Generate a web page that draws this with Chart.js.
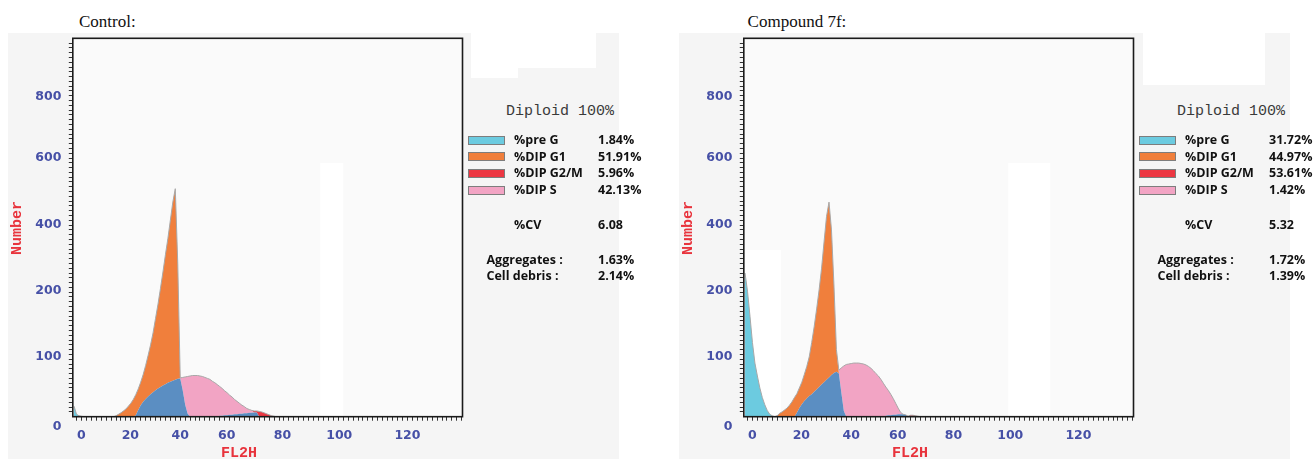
<!DOCTYPE html>
<html><head><meta charset="utf-8">
<script src="https://cdn.jsdelivr.net/npm/chart.js@4.4.1/dist/chart.umd.min.js"></script>
<style>
html,body{margin:0;padding:0;background:#fff;}
body{width:1315px;height:459px;position:relative;overflow:hidden;}
.panel{position:absolute;top:0;width:660px;height:459px;}
.abs{position:absolute;}
.bg{background:#f5f5f5;}
.white{background:#ffffff;}
.title{font-family:"Liberation Serif",serif;font-size:17px;color:#111;line-height:20px;white-space:nowrap;}
.axt{font-family:"Liberation Mono",monospace;font-weight:bold;font-size:15px;color:#e8333c;white-space:nowrap;line-height:16px;}
.dip{font-family:"Liberation Mono",monospace;font-size:15px;color:#3a3a3a;white-space:nowrap;line-height:16px;}
.lg{font-family:"Open Sans",sans-serif;font-weight:700;font-size:12.5px;color:#111;white-space:nowrap;line-height:16px;}
.sw{border:1px solid #7d7d7d;box-sizing:border-box;}
canvas{position:absolute;left:0;top:0;}
</style>
</head><body>
<script>
// ---------------- data ----------------
// FL2H channel grid (shared by both histograms)
const channels = [-3,-2,-1,0,1,2,3,4,5,6,7,8,9,10,11,12,13,14,15,16,17,18,19,20,21,22,23,24,25,26,27,28,29,30,31,32,33,34,35,36,37,38,39,40,41,42,43,44,45,46,47,48,49,50,51,52,53,54,55,56,57,58,59,60,61,62,63,64,65,66,67,68,69,70,71,72,73,74,75,76,77,78,79,80];

// Control: counts per channel for each phase component (stacked)
const controlPreG   = [22,5,2,1,0,0,0,0,0,0,0,0,0,0,0,0,0,0,0,0,0,0,0,0,0,0,0,0,0,0,0,0,0,0,0,0,0,0,0,0,0,0,0,0,0,0,0,0,0,0,0,0,0,0,0,0,0,0,0,0,0,0,0,0,0,0,0,0,0,0,0,0,0,0,0,0,0,0,0,0,0,0,0,0];
const controlSUnder = [0,0,0,0,0,0,0,0,0,0,0,0,0,0,0,0,0,0,0,0,0,0,0,0,0,3,14,24,31,37,42,47,51,55,59,62,65,68,71,73,75,77,79,80,55,25,6,0,0,0,0,0,0,0,0,0,0,1,1,2,2,3,3,4,4,5,5,6,6,7,7,8,8,9,9,0,0,0,0,0,0,0,0,0];
const controlG1     = [0,0,0,0,0,0,0,0,0,0,0,0,0,0,0,0,0,2,5,8,12,16,22,28,36,43,44,48,57,70,86,103,124,150,176,206,237,270,301,337,373,399,241,0,0,0,0,0,0,0,0,0,0,0,0,0,0,0,0,0,0,0,0,0,0,0,0,0,0,0,0,0,0,0,0,0,0,0,0,0,0,0,0,0];
const controlS      = [0,0,0,0,0,0,0,0,0,0,0,0,0,0,0,0,0,0,0,0,0,0,0,0,0,0,0,0,0,0,0,0,0,0,0,0,0,0,0,0,0,0,0,1,27,58,78,85,86,86,86,85,84,82,80,78,74,70,66,61,57,51,47,41,37,31,27,22,18,14,10,7,4,0,0,0,0,0,0,0,0,0,0,0];
const controlG2M    = [0,0,0,0,0,0,0,0,0,0,0,0,0,0,0,0,0,0,0,0,0,0,0,0,0,0,0,0,0,0,0,0,0,0,0,0,0,0,0,0,0,0,0,0,0,0,0,0,0,0,0,0,0,0,0,0,0,0,0,0,0,0,0,0,0,0,0,0,0,0,0,0,1,3,3,11,10,8,6,4,2,1,0,0];

// Compound 7f
const compPreG   = [300,262,210,155,112,85,60,40,25,13,5,2,0,0,0,0,0,0,0,0,0,0,0,0,0,0,0,0,0,0,0,0,0,0,0,0,0,0,0,0,0,0,0,0,0,0,0,0,0,0,0,0,0,0,0,0,0,0,0,0,0,0,0,0,0,0,0,0,0,0,0,0,0,0,0,0,0,0,0,0,0,0,0,0];
const compSUnder = [0,0,0,0,0,0,0,0,0,0,0,0,0,0,0,0,0,0,0,0,0,8,18,26,33,38,43,47,52,57,62,67,72,77,82,87,91,94,90,50,12,0,0,0,0,0,0,0,0,0,0,0,0,0,0,0,0,2,3,3,4,4,5,5,5,4,0,0,0,0,0,0,0,0,0,0,0,0,0,0];
const compG1     = [0,0,0,0,0,0,0,0,0,0,0,0,0,2,7,10,14,18,24,31,40,40,42,46,55,67,82,108,136,168,203,243,293,341,366,303,184,46,0,0,0,0,0,0,0,0,0,0,0,0,0,0,0,0,0,0,0,0,0,0,0,0,0,0,0,0,0,0,0,0,0,0,0,0,0,0,0,0,0,0,0,0,0,0];
const compS      = [0,0,0,0,0,0,0,0,0,0,0,0,0,0,0,0,0,0,0,0,0,0,0,0,0,0,0,0,0,0,0,0,0,0,0,0,0,0,7,52,94,109,110,111,112,112,112,111,110,108,105,101,96,90,85,78,70,60,52,44,34,24,13,4,0,0,0,0,0,0,0,0,0,0,0,0,0,0,0,0,0,0,0,0];
const compG2M    = [0,0,0,0,0,0,0,0,0,0,0,0,0,0,0,0,0,0,0,0,0,0,0,0,0,0,0,0,0,0,0,0,0,0,0,0,0,0,0,0,0,0,0,0,0,0,0,0,0,0,0,0,0,0,0,0,0,0,0,0,0,0,0,0,0,0,1,3,3,2,1,0,0,0,0,0,0,0,0,0,0,0,0,0];

// axis tick labels and the axis values where they are printed
const xTickLabels = ['0','20','40','60','80','100','120'];
const xTickAt     = [0, 19.8, 40, 58.8, 81.4, 104.4, 132];
const yTickLabels = ['0','100','200','400','600','800'];
const yTickAt     = [-21.5, 126, 262, 400, 540, 667];

// legend / statistics text
const phaseNames   = ['%pre G','%DIP G1','%DIP G2/M','%DIP S'];
const controlPct   = ['1.84%','51.91%','5.96%','42.13%'];
const compPct      = ['31.72%','44.97%','53.61%','1.42%'];
const controlStats = {cv:'6.08', agg:'1.63%', debris:'2.14%'};
const compStats    = {cv:'5.32', agg:'1.72%', debris:'1.39%'};

// ---------------- styling ----------------
const COL = {preG:'#6ccbe0', g1:'#f07f3c', g2m:'#ec3742', s:'#f2a4c4', sUnder:'#5b8ec2'};
const swatchCols = [COL.preG, COL.g1, COL.g2m, COL.s];

function makePanel(opts){
  const p = document.createElement('div');
  p.className = 'panel';
  p.style.left = opts.left + 'px';
  document.body.appendChild(p);
  const add = (cls, css, text) => {
    const d = document.createElement('div');
    d.className = 'abs ' + cls;
    Object.assign(d.style, css);
    if (text !== undefined) d.textContent = text;
    p.appendChild(d);
    return d;
  };
  add('bg', {left:'8px', top:'33px', width:'611px', height:'426px'});
  opts.topPatches.forEach(r => add('white', {left:r[0]+'px', top:r[1]+'px', width:r[2]+'px', height:r[3]+'px'}));
  add('title', {left:opts.titleLeft+'px', top:'12px'}, opts.title);

  const cv = document.createElement('canvas');
  cv.width = 480; cv.height = 459;
  cv.style.width = '480px'; cv.style.height = '459px';
  p.appendChild(cv);

  // axis titles
  add('axt', {left:'17.7px', top:'228px', transform:'translate(-50%,-50%) rotate(-90deg)'}, 'Number');
  add('axt', {left:'239px', top:'454px', transform:'translate(-50%,-50%)'}, 'FL2H');

  // statistics legend
  add('dip', {left:'506px', top:'103.5px'}, 'Diploid 100%');
  const rows = [140, 156.7, 173.3, 190];
  rows.forEach((y, i) => {
    add('sw', {left:'468px', top:(y-4.5)+'px', width:'37px', height:'9px', background:swatchCols[i]});
    add('lg', {left:'514px', top:(y-8)+'px'}, phaseNames[i]);
    add('lg', {left:'598px', top:(y-8)+'px'}, opts.pct[i]);
  });
  add('lg', {left:'514px', top:(224.5-8)+'px'}, '%CV');
  add('lg', {left:'598px', top:(224.5-8)+'px'}, opts.stats.cv);
  add('lg', {left:'486.5px', top:(259.5-8)+'px'}, 'Aggregates :');
  add('lg', {left:'598px', top:(259.5-8)+'px'}, opts.stats.agg);
  add('lg', {left:'486.5px', top:(275.5-8)+'px'}, 'Cell debris :');
  add('lg', {left:'598px', top:(275.5-8)+'px'}, opts.stats.debris);

  const series = opts.series;
  const total = channels.map((c, i) => series.reduce((s, a) => s + a.values[i], 0));
  const pts = arr => channels.map((c, i) => ({x:c, y:arr[i]}));

  const datasets = series.map((s, k) => ({
    data: pts(s.values), backgroundColor: s.color, borderWidth: 0, borderColor: 'rgba(0,0,0,0)',
    fill: k === 0 ? 'origin' : '-1', tension: 0, pointRadius: 0, stack: 'phases', order: 2
  }));
  datasets.push({data: pts(total), fill: false, borderColor: '#a8a8a8', borderWidth: 1,
    tension: 0, pointRadius: 0, stack: 'envelope', order: 0});

  const framePlugin = {
    id: 'frame',
    beforeDatasetsDraw(chart){
      const {ctx, chartArea:a, scales:{x, y}} = chart;
      ctx.save();
      ctx.fillStyle = '#fafafa';
      ctx.fillRect(a.left, a.top, a.right - a.left, a.bottom - a.top);
      ctx.fillStyle = '#ffffff';
      opts.plotPatches.forEach(r => {
        const x0 = x.getPixelForValue(r[0]), x1 = x.getPixelForValue(r[1]);
        const y0 = y.getPixelForValue(r[2]), y1 = y.getPixelForValue(r[3]);
        ctx.fillRect(x0, y1, x1 - x0, y0 - y1);
      });
      ctx.restore();
    },
    afterDraw(chart){
      const {ctx, chartArea:a} = chart;
      ctx.save();
      ctx.strokeStyle = '#1a1a1a';
      ctx.lineWidth = 1.6;
      ctx.strokeRect(a.left, a.top, a.right - a.left, a.bottom - a.top);
      ctx.restore();
    }
  };

  const tickFont = {family:'DejaVu Sans', weight:'bold', size:12.5};
  new Chart(cv, {
    type: 'line',
    data: {datasets},
    plugins: [framePlugin],
    options: {
      responsive: false, animation: false, devicePixelRatio: 1,
      layout: {padding: {top: 38.3, right: 17.5, left: 0, bottom: 0}},
      plugins: {legend: {display: false}, tooltip: {enabled: false}},
      scales: {
        x: {
          type: 'linear', min: -3.5, max: 154.3,
          afterFit(s){ s.height = 42.3; },
          afterBuildTicks(s){
            const t = [];
            for (let v = -2; v <= 154; v += 2) t.push({value: v, lab: ''});
            xTickAt.forEach((v, i) => t.push({value: v, lab: xTickLabels[i], isLab: true}));
            t.sort((a, b) => a.value - b.value);
            s.ticks = t;
          },
          ticks: {autoSkip: false, maxRotation: 0, minRotation: 0, padding: 8, color: '#4650a6', font: tickFont,
                  callback: (v, i, ticks) => ticks[i].lab || ''},
          grid: {display: true, drawOnChartArea: false, drawTicks: true, tickLength: 4, lineWidth: 1,
                 tickColor: c => (c.tick && c.tick.isLab) ? 'rgba(0,0,0,0)' : '#333'},
          border: {display: false}
        },
        y: {
          type: 'linear', stacked: true, min: 0, max: 790,
          afterFit(s){ s.width = 72.8; },
          afterBuildTicks(s){
            const t = [];
            for (let v = 10; v <= 780; v += 10) t.push({value: v, lab: ''});
            yTickAt.forEach((v, i) => t.push({value: v, lab: yTickLabels[i], isLab: true}));
            t.sort((a, b) => a.value - b.value);
            s.ticks = t;
          },
          ticks: {autoSkip: false, padding: 7.4, color: '#4650a6', font: tickFont,
                  callback: (v, i, ticks) => ticks[i].lab || ''},
          grid: {display: true, drawOnChartArea: false, drawTicks: true, tickLength: 4, lineWidth: 1,
                 tickColor: c => (c.tick && c.tick.isLab) ? 'rgba(0,0,0,0)' : '#333'},
          border: {display: false}
        }
      }
    }
  });
}

makePanel({
  left: 0, title: 'Control:', titleLeft: 79,
  pct: controlPct, stats: controlStats,
  topPatches: [[471,33,47,45],[518,33,78,35]],
  plotPatches: [[96.7,106,0,530]],
  series: [
    {values: controlPreG, color: COL.preG},
    {values: controlSUnder, color: COL.sUnder},
    {values: controlG1, color: COL.g1},
    {values: controlS, color: COL.s},
    {values: controlG2M, color: COL.g2m}
  ]
});
makePanel({
  left: 671, title: 'Compound 7f:', titleLeft: 76.6,
  pct: compPct, stats: compStats,
  topPatches: [[472,33,122,52]],
  plotPatches: [[103.6,120.6,0,530],[-2.9,11.6,0,348]],
  series: [
    {values: compPreG, color: COL.preG},
    {values: compSUnder, color: COL.sUnder},
    {values: compG1, color: COL.g1},
    {values: compS, color: COL.s},
    {values: compG2M, color: COL.g2m}
  ]
});
</script>
</body></html>
